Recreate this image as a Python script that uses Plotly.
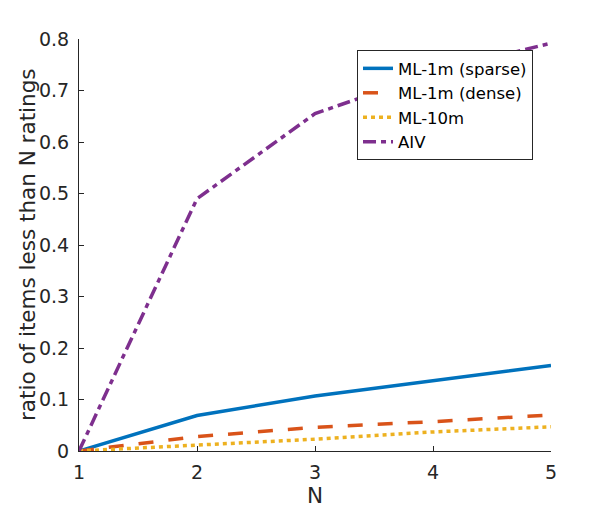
import plotly.graph_objects as go

N = [1, 2, 3, 4, 5]
ml1m_sparse = [0.0, 0.069, 0.107, 0.137, 0.166]
ml1m_dense = [0.0, 0.028, 0.046, 0.057, 0.070]
ml10m = [0.0, 0.011, 0.023, 0.037, 0.047]
aiv = [0.0, 0.490, 0.655, 0.735, 0.792]

names = ["ML-1m (sparse)", "ML-1m (dense)", "ML-10m", "AIV"]
colors = ["#0072BD", "#D95319", "#EDB120", "#7E2F8E"]
dashes = ["solid", "15px,15px", "4px,4px", "13px,5px,5px,5px"]
series = [ml1m_sparse, ml1m_dense, ml10m, aiv]

fig = go.Figure()
for nm, c, d, s in zip(names, colors, dashes, series):
    fig.add_trace(go.Scatter(x=N, y=s, mode="lines", name=nm,
                             line=dict(color=c, width=3.5, dash=d)))

axis_common = dict(showline=True, linecolor="#262626", linewidth=1,
                   ticks="inside", ticklen=5, tickcolor="#262626",
                   showgrid=False, zeroline=False, mirror=False, automargin=False,
                   tickfont=dict(family="DejaVu Sans", size=19, color="#262626"))

fig.update_layout(
    width=610, height=510,
    margin=dict(l=79, r=59, t=39, b=59),
    paper_bgcolor="white", plot_bgcolor="white",
    font=dict(family="DejaVu Sans", color="#262626"),
    xaxis=dict(range=[1, 5], tickvals=[1, 2, 3, 4, 5], ticklabelstandoff=4,
               title=dict(text="N", font=dict(size=21.5), standoff=2), **axis_common),
    yaxis=dict(range=[0, 0.8], tickvals=[0, 0.1, 0.2, 0.3, 0.4, 0.5, 0.6, 0.7, 0.8],
               ticktext=["0", "0.1", "0.2", "0.3", "0.4", "0.5", "0.6", "0.7", "0.8"],
               ticklabelstandoff=5, **axis_common),
    annotations=[dict(text="ratio of items less than N ratings", textangle=-90,
                      xref="paper", yref="paper", x=0, y=0.5, xanchor="center",
                      yanchor="middle", xshift=-52, showarrow=False,
                      font=dict(family="DejaVu Sans", size=21.5, color="#262626"))],
    legend=dict(x=0.589, y=0.973, xanchor="left", yanchor="top",
                bgcolor="white", bordercolor="#262626", borderwidth=1,
                font=dict(family="DejaVu Sans", size=16.5, color="#000000"),
                tracegroupgap=0, itemwidth=30),
    showlegend=True,
)

fig.write_html("out.html")
